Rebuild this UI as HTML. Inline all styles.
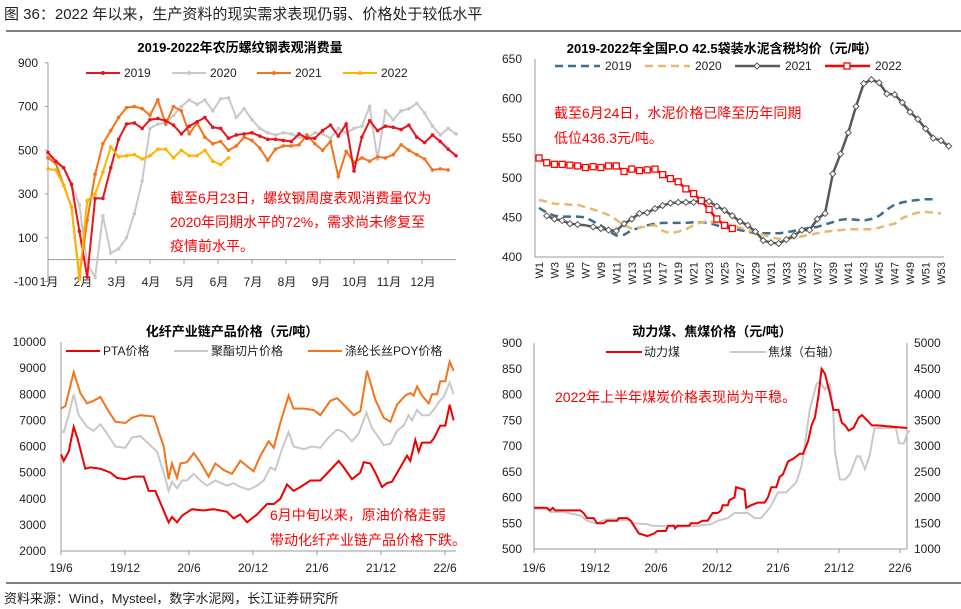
<!DOCTYPE html>
<html><head><meta charset="utf-8">
<style>
body{margin:0;background:#fff;width:961px;height:609px;overflow:hidden;font-family:"Liberation Sans","Noto Sans CJK SC",sans-serif;}
svg{position:absolute;left:0;top:0}
text{font-family:"Liberation Sans","Noto Sans CJK SC",sans-serif;}
</style></head><body>
<svg id="s" width="961" height="609" viewBox="0 0 961 609">
<text x="4" y="19" font-size="15" fill="#222">图 36：2022 年以来，生产资料的现实需求表现仍弱、价格处于较低水平</text>
<line x1="6" y1="31" x2="961" y2="31" stroke="#000" stroke-width="1"/>
<line x1="6" y1="583" x2="961" y2="583" stroke="#000" stroke-width="1"/>
<text x="4" y="603" font-size="13" fill="#222">资料来源：Wind，Mysteel，数字水泥网，长江证券研究所</text>
</svg>
<script>
// ---------- Chart 1 data: rebar apparent consumption (weekly, lunar) ----------
const c1Ticks=[900,700,500,300,100,-100];
const c1Months=["1月","2月","3月","4月","5月","6月","7月","8月","9月","10月","11月","12月"];
const c1Y2019=[490,450,420,345,130,-80,280,280,420,550,620,625,600,640,645,635,615,575,610,630,650,605,600,555,570,575,580,565,550,550,545,540,575,555,555,590,615,565,620,405,560,635,590,610,605,595,615,560,535,570,540,505,475];
const c1Y2020=[480,445,420,340,250,-20,-80,200,30,50,100,210,360,600,620,625,660,700,730,710,730,680,735,740,650,690,640,600,580,570,580,575,560,555,580,575,555,600,580,600,610,700,460,680,640,680,690,715,670,610,570,600,575];
const c1Y2021=[465,440,340,240,-80,180,390,530,590,650,695,700,690,660,730,620,700,680,575,625,560,530,540,500,520,560,545,510,455,505,520,520,525,570,530,500,540,380,495,445,465,450,470,465,480,525,500,480,460,410,415,410];
const c1Y2022=[415,410,340,240,-90,270,300,400,515,470,475,480,460,475,505,505,465,500,475,475,500,450,435,465];
// ---------- Chart 2 data: cement price by week ----------
const c2Ticks=[650,600,550,500,450,400];
const c2Weeks=Array.from({length:53},(_,i)=>"W"+(i+1));
const c2Y2019=[462,456,452,451,451,451,450,445,440,433,427,428,434,437,440,442,443,443,443,443,444,444,443,440,437,436,434,432,430,430,430,430,431,433,435,437,438,441,444,447,448,447,446,448,452,460,466,469,471,472,473,473];
const c2Y2020=[472,470,467,467,466,466,463,460,457,453,447,440,436,437,439,440,433,430,432,435,440,444,445,443,442,440,437,434,431,428,425,423,423,424,426,428,430,432,433,434,435,435,435,435,437,440,442,449,453,456,457,456,455];
const c2Y2021=[null,452,448,446,442,441,440,438,436,434,433,442,448,455,456,461,465,468,469,469,469,472,470,464,459,452,445,440,432,421,418,417,422,427,434,434,448,455,505,530,557,590,619,624,620,606,605,595,583,574,562,550,547,540];
const c2Y2022=[525,519,517,517,516,515,513,514,513,515,515,508,511,509,510,511,504,499,495,486,480,471,460,448,440,436];
// ---------- Chart 3 data: polyester chain prices (months since 2019-06) ----------
const c3Ticks=[10000,9000,8000,7000,6000,5000,4000,3000,2000];
const c3Labels=["19/6","19/12","20/6","20/12","21/6","21/12","22/6"];
const c3PtaM=[0,0.25,0.72,1.19,1.56,2.28,2.75,3.69,4.63,5.25,6.03,6.81,7.75,8.22,8.84,9.47,10.09,10.41,10.88,11.34,12.28,13.38,14.31,15.56,16.19,16.81,17.44,18.38,19.31,19.94,20.56,21.19,21.81,22.44,23.38,24.31,25.25,26.03,26.5,27.28,28.06,28.38,29,29.47,30.09,30.56,31.03,31.81,32.44,32.75,33.22,33.53,33.84,34.63,34.94,35.25,35.56,36.03,36.44,36.81];
const c3Pta=[5700,5450,5800,6750,6300,5150,5200,5150,5000,4800,4750,4850,4850,4300,4300,3700,3100,3300,3100,3350,3600,3550,3600,3500,3250,3400,3100,3400,3800,3800,4000,4550,4300,4450,4700,4700,5100,5450,5200,4750,5000,5400,5350,5000,4450,4600,4650,5200,5650,5450,6250,5800,6150,6150,6300,6550,6800,6800,7600,7000];
const c3ChipM=[0,0.25,0.72,1.19,1.66,2.44,3.06,3.69,4.31,5.09,6.03,6.66,7.44,8.22,9,9.63,10.09,10.41,10.88,11.34,11.81,12.44,13.06,13.69,14.47,15.56,16.19,16.81,17.59,18.38,19,19.63,20.09,20.72,21.34,21.81,22.75,23.53,24.31,25.09,25.88,26.5,27.28,27.91,28.63,29.16,29.78,30.25,30.88,31.5,32.13,32.59,32.91,33.38,33.84,34.47,34.94,35.41,35.88,36.44,36.81];
const c3Chip=[6600,6550,7200,8000,7200,6750,6600,6850,6500,6000,5950,6350,6400,6100,5800,5000,4300,4650,4400,4700,4700,4950,4700,4500,4700,4500,4600,4450,4350,4500,4700,5200,5100,5900,6550,6000,5900,6000,5950,6350,6650,6550,6200,6500,7300,6700,6350,6050,6100,6600,6800,7200,7000,7400,7200,7200,7400,7700,7900,8450,8000];
const c3PoyM=[0,0.41,1.19,1.81,2.44,3.06,3.69,4.31,5.09,6.03,6.66,7.44,8.69,9.63,10.09,10.41,10.88,11.19,11.81,12.44,13.06,13.84,14.47,15.25,16.03,16.81,17.59,18.06,18.69,19.47,19.94,20.56,21.34,21.81,22.75,23.69,24.31,25.25,25.88,26.5,27.44,28.06,28.69,29.47,30.25,30.88,31.5,32.28,32.75,33.06,33.38,33.84,34.47,34.78,35.25,35.56,36.03,36.44,36.81];
const c3Poy=[7450,7550,8850,8050,7650,7750,7900,7450,6950,6900,7100,7200,7150,6000,4750,5350,4800,5350,5400,5750,5400,4850,5350,5100,4950,5450,5200,5050,5650,6200,5950,6900,7950,7450,7450,7400,7200,7750,7850,7600,7200,7350,8900,7800,7100,6950,7600,7950,8050,7950,8300,7950,7650,8000,8000,8500,8500,9250,8900];
// ---------- Chart 4 data: thermal & coking coal (months since 2019-06) ----------
const c4TicksL=[900,850,800,750,700,650,600,550,500];
const c4TicksR=[5000,4500,4000,3500,3000,2500,2000,1500,1000];
const c4Labels=["19/6","19/12","20/6","20/12","21/6","21/12","22/6"];
const c4ThermM=[0,1.25,1.58,1.85,2.08,4.55,4.88,5.21,5.87,6.2,6.86,7.19,8.18,8.34,9.17,9.5,9.99,10.32,11.15,11.81,12.14,12.96,13.19,13.78,13.88,14.11,15.27,15.43,16.09,16.59,17.08,17.57,18.07,18.4,18.56,19.06,19.22,19.72,19.88,20.7,20.87,21.36,22.02,22.68,23.01,23.34,23.83,24.16,24.49,24.99,25.48,25.81,26.14,26.47,26.97,27.3,27.63,27.96,28.29,28.62,29.12,29.45,29.95,30.28,30.61,30.94,31.43,31.93,32.26,33.25,33.74,36.7];
const c4Therm=[580,580,575,580,575,575,570,560,560,550,550,555,555,560,560,555,540,530,525,530,535,535,545,545,540,545,545,550,550,555,555,570,570,575,585,585,595,600,620,615,580,585,590,590,600,620,620,640,645,670,675,680,685,685,710,740,755,795,850,840,800,770,770,745,740,730,735,755,760,740,740,735];
const c4CokeM=[0,1.25,1.58,2.9,4.55,5.21,6.03,7.19,9.5,9.83,11.15,11.64,13.13,14.44,16.09,17.41,18.07,19.06,19.72,21.04,21.69,22.35,23.18,24,24.82,25.81,26.3,26.63,27.12,27.78,28.12,28.61,29.1,29.43,29.6,30.09,30.58,31.08,31.74,32.06,32.56,33,33.5,35.6,35.9,36.4,36.7,37];
const c4Coke=[1780,1780,1720,1720,1650,1550,1500,1580,1560,1500,1480,1450,1440,1430,1450,1480,1550,1600,1700,1700,1600,1600,1800,2100,2100,2300,2600,3000,3700,4200,4250,4100,4200,3700,2900,2350,2350,2450,2800,2800,2550,2800,3350,3350,3050,3050,3250,3300];

const svg=document.getElementById('s');
const NS='http://www.w3.org/2000/svg';
function mk(tag,attrs,parent){const e=document.createElementNS(NS,tag);for(const k in attrs)e.setAttribute(k,attrs[k]);(parent||svg).appendChild(e);return e;}
function txt(x,y,s,size,fill,anchor,weight,parent){const t=mk('text',{x:x,y:y,'font-size':size,fill:fill||'#000','text-anchor':anchor||'start','font-weight':weight||'normal'},parent);t.textContent=s;return t;}
function pathFrom(xs,ys,fx,fy){let d='',pen=false;for(let i=0;i<ys.length;i++){if(ys[i]==null){pen=false;continue;}d+=(pen?'L':'M')+fx(xs[i]).toFixed(1)+' '+fy(ys[i]).toFixed(1);pen=true;}return d;}
const RED='#ff0000';

// ================= Chart 1 =================
(function(){
 const g=mk('g',{});
 
 
 const x0=48,x1=456,n=53;
 const fx=i=>x0+i*(x1-x0)/(n-1);
 const fy=v=>281.5-(v+100)*0.2187;
 let t=txt(240,52,'2019-2022年农历螺纹钢表观消费量',13,'#000','middle','bold',g);
 
 mk('line',{x1:x0,y1:fy(900),x2:x0,y2:fy(-100),stroke:'#999'},g);
 mk('line',{x1:x0,y1:fy(0),x2:x1,y2:fy(0),stroke:'#999'},g);
 c1Ticks.forEach(v=>{const l=txt(38,fy(v)+4,String(v),12,'#222','end','normal',g);mk('line',{x1:x0-3,y1:fy(v),x2:x0,y2:fy(v),stroke:'#999'},g);});
 c1Months.forEach((m,i)=>{const xm=x0+i*34;mk('line',{x1:xm,y1:fy(0),x2:xm,y2:fy(0)+4,stroke:'#999'},g);const l=txt(xm+1,286,m,12,'#222','middle','normal',g);});
 const series=[[c1Y2020,'#c8c8c8','2020'],[c1Y2021,'#f4731c','2021'],[c1Y2019,'#e8141c','2019'],[c1Y2022,'#ffb300','2022']];
 series.forEach(([d,c,nm])=>{
  const p=mk('path',{d:pathFrom(d.map((_,i)=>i),d,fx,fy),fill:'none',stroke:c,'stroke-width':2},g);
  
  d.forEach((v,i)=>{mk('circle',{cx:fx(i),cy:fy(v),r:1.8,fill:c},g);});
 });
 const leg=[['2019','#e8141c',86],['2020','#c8c8c8',172],['2021','#f4731c',257],['2022','#ffb300',343]];
 leg.forEach(([nm,c,x])=>{const lg=mk('g',{},g);
  mk('line',{x1:x,y1:73,x2:x+34,y2:73,stroke:c,'stroke-width':2},lg);mk('circle',{cx:x+17,cy:73,r:2,fill:c},lg);txt(x+38,77,nm,12,'#222','start','normal',lg);});
 const a=mk('g',{},g);
 txt(170,203,'截至6月23日，螺纹钢周度表观消费量仅为',14,RED,'start','normal',a);
 txt(170,227,'2020年同期水平的72%，需求尚未修复至',14,RED,'start','normal',a);
 txt(170,251,'疫情前水平。',14,RED,'start','normal',a);
})();

// ================= Chart 2 =================
(function(){
 const g=mk('g',{});
 
 
 const x0=539,step=(941-539)/52;
 const fx=i=>x0+i*step;
 const fy=v=>257-(v-400)*0.792;
 let t=txt(722,53,'2019-2022年全国P.O 42.5袋装水泥含税均价（元/吨）',13,'#000','middle','bold',g);
 
 mk('line',{x1:535,y1:fy(650),x2:535,y2:fy(400),stroke:'#999'},g);
 mk('line',{x1:535,y1:fy(400),x2:944,y2:fy(400),stroke:'#999'},g);
 c2Ticks.forEach(v=>{const l=txt(522,fy(v)+4,String(v),12,'#222','end','normal',g);});
 c2Weeks.forEach((w,i)=>{if(i%2==0){const l=txt(0,0,w,11,'#222','end','normal',g);l.setAttribute('transform','translate('+(fx(i)+4)+',262) rotate(-90)');}});
 const idx=a=>a.map((_,i)=>i);
 let p=mk('path',{d:pathFrom(idx(c2Y2019),c2Y2019,fx,fy),fill:'none',stroke:'#3d6e8c','stroke-width':2.5,'stroke-dasharray':'8 5'},g);
 p=mk('path',{d:pathFrom(idx(c2Y2020),c2Y2020,fx,fy),fill:'none',stroke:'#e8b86d','stroke-width':2.5,'stroke-dasharray':'8 5'},g);
 p=mk('path',{d:pathFrom(idx(c2Y2021),c2Y2021,fx,fy),fill:'none',stroke:'#595959','stroke-width':2.5},g);
 c2Y2021.forEach((v,i)=>{if(v!=null&&i!=6){const cx=fx(i),cy=fy(v);mk('path',{d:`M${cx-3} ${cy}L${cx} ${cy-3}L${cx+3} ${cy}L${cx} ${cy+3}Z`,fill:'#fff',stroke:'#595959','stroke-width':1},g);}});
 p=mk('path',{d:pathFrom(idx(c2Y2022),c2Y2022,fx,fy),fill:'none',stroke:'#ff0000','stroke-width':2.5},g);
 c2Y2022.forEach((v,i)=>{mk('rect',{x:fx(i)-3,y:fy(v)-3,width:6,height:6,fill:'#fff',stroke:'#ff0000','stroke-width':1.3},g);});
 const leg=[['2019',555],['2020',645],['2021',735],['2022',825]];
 leg.forEach(([nm,x],k)=>{const lg=mk('g',{},g);
  const c=['#3d6e8c','#e8b86d','#595959','#ff0000'][k];
  mk('line',{x1:x,y1:66,x2:x+45,y2:66,stroke:c,'stroke-width':2.5,'stroke-dasharray':k<2?'8 5':'none'},lg);
  if(k==2)mk('path',{d:`M${x+19} 66L${x+22} 63L${x+25} 66L${x+22} 69Z`,fill:'#fff',stroke:c},lg);
  if(k==3)mk('rect',{x:x+19,y:63,width:6,height:6,fill:'#fff',stroke:c,'stroke-width':1.3},lg);
  txt(x+50,70,nm,12,'#222','start','normal',lg);});
 const a=mk('g',{},g);
 txt(554,118,'截至6月24日，水泥价格已降至历年同期',14,RED,'start','normal',a);
 txt(554,143,'低位436.3元/吨。',14,RED,'start','normal',a);
})();

// ================= Chart 3 =================
(function(){
 const g=mk('g',{});
 
 
 const fx=m=>61+m*(64/6);
 const fy=v=>551-(v-2000)*0.02612;
 let t=txt(232,336,'化纤产业链产品价格（元/吨）',13,'#000','middle','bold',g);
 
 mk('line',{x1:61,y1:fy(10000),x2:61,y2:fy(2000),stroke:'#999'},g);
 mk('line',{x1:61,y1:fy(2000),x2:456,y2:fy(2000),stroke:'#999'},g);
 c3Ticks.forEach(v=>{const l=txt(46,fy(v)+4,String(v),12,'#222','end','normal',g);});
 c3Labels.forEach((s,i)=>{const xm=fx(i*6);mk('line',{x1:xm,y1:fy(2000),x2:xm,y2:fy(2000)+4,stroke:'#999'},g);const l=txt(xm,572,s,12,'#222','middle','normal',g);});
 let p=mk('path',{d:pathFrom(c3ChipM,c3Chip,fx,fy),fill:'none',stroke:'#c8c8c8','stroke-width':2},g);
 p=mk('path',{d:pathFrom(c3PoyM,c3Poy,fx,fy),fill:'none',stroke:'#f4731c','stroke-width':2},g);
 p=mk('path',{d:pathFrom(c3PtaM,c3Pta,fx,fy),fill:'none',stroke:'#ee0000','stroke-width':2},g);
 const leg=[['PTA价格','#ee0000',66],['聚酯切片价格','#c8c8c8',174],['涤纶长丝POY价格','#f4731c',308]];
 leg.forEach(([nm,c,x])=>{const lg=mk('g',{},g);
  mk('line',{x1:x,y1:351,x2:x+34,y2:351,stroke:c,'stroke-width':2},lg);txt(x+37,355,nm,12,'#222','start','normal',lg);});
 const a=mk('g',{},g);
 txt(270,520,'6月中旬以来，原油价格走弱',14,RED,'start','normal',a);
 txt(270,545,'带动化纤产业链产品价格下跌。',14,RED,'start','normal',a);
})();

// ================= Chart 4 =================
(function(){
 const g=mk('g',{});
 
 
 const fx=m=>534+m*(61/6);
 const fy=v=>549-(v-500)*0.515;
 const fyR=v=>549-(v-1000)*0.0515;
 let t=txt(712,336,'动力煤、焦煤价格（元/吨）',13,'#000','middle','bold',g);
 
 mk('line',{x1:534,y1:fy(900),x2:534,y2:fy(500),stroke:'#999'},g);
 mk('line',{x1:907,y1:fy(900),x2:907,y2:fy(500),stroke:'#999'},g);
 mk('line',{x1:534,y1:fy(500),x2:907,y2:fy(500),stroke:'#999'},g);
 c4TicksL.forEach(v=>{const l=txt(522,fy(v)+4,String(v),12,'#222','end','normal',g);});
 c4TicksR.forEach(v=>{const l=txt(914,fyR(v)+4,String(v),12,'#222','start','normal',g);});
 c4Labels.forEach((s,i)=>{const xm=fx(i*6);mk('line',{x1:xm,y1:fy(500),x2:xm,y2:fy(500)+4,stroke:'#999'},g);const l=txt(xm,572,s,12,'#222','middle','normal',g);});
 let p=mk('path',{d:pathFrom(c4CokeM,c4Coke,fx,fyR),fill:'none',stroke:'#c8c8c8','stroke-width':2},g);
 p=mk('path',{d:pathFrom(c4ThermM,c4Therm,fx,fy),fill:'none',stroke:'#ee0000','stroke-width':2},g);
 let lg=mk('g',{},g);
 mk('line',{x1:606,y1:352,x2:642,y2:352,stroke:'#ee0000','stroke-width':2},lg);txt(644,356,'动力煤',12,'#222','start','normal',lg);
 lg=mk('g',{},g);
 mk('line',{x1:730,y1:352,x2:766,y2:352,stroke:'#c8c8c8','stroke-width':2},lg);txt(768,356,'焦煤（右轴）',12,'#222','start','normal',lg);
 const a=txt(555,402,'2022年上半年煤炭价格表现尚为平稳。',14,RED,'start','normal',g);
 
})();
</script>
</body></html>
